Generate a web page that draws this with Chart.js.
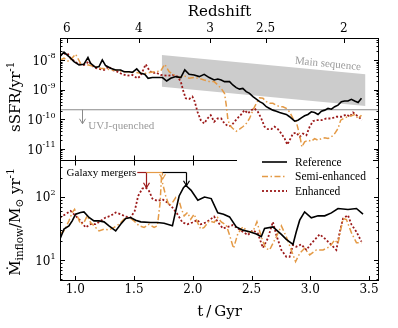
<!DOCTYPE html>
<html>
<head>
<meta charset="utf-8">
<script src="https://cdn.jsdelivr.net/npm/chart.js@4.4.0/dist/chart.umd.min.js"></script>
<style>
  html, body { margin: 0; padding: 0; background: #fff; }
  canvas { display: block; }
</style>
</head>
<body>
<canvas id="sfrChart" width="398" height="328"></canvas>
<script>
// axis ranges
const tMin = 0.87, tMax = 3.585;
const ssfrMin = 4.47e-12, ssfrMax = 5.62e-8;
const inflowMin = 4.73, inflowMax = 390;

// tick labels
const tTicks = [1.0, 1.5, 2.0, 2.5, 3.0, 3.5];
const zLabels = ['6', '4', '3', '2.5', '2'];
const zTickTimes = [0.929, 1.540, 2.148, 2.620, 3.285];

const seriesNames = ['Reference', 'Semi-enhanced', 'Enhanced'];

// sSFR [1/yr], top panel
const refTopT = [0.870,0.904,0.946,0.989,1.032,1.074,1.108,1.130,1.173,1.202,1.230,1.258,1.301,1.344,1.386,1.415,1.458,1.486,1.523,1.557,1.591,1.620,1.656,1.699,1.742,1.778,1.812,1.855,1.898,1.932,1.969,2.012,2.055,2.097,2.140,2.182,2.213,2.242,2.270,2.313,2.341,2.370,2.398,2.426,2.455,2.483,2.512,2.541,2.569,2.597,2.626,2.654,2.682,2.711,2.739,2.767,2.796,2.824,2.867,2.895,2.924,2.952,2.980,3.009,3.037,3.066,3.095,3.123,3.151,3.180,3.208,3.236,3.265,3.293,3.321,3.350,3.378,3.407,3.436];
const refTopSSFR = [1.33e-8,1.87e-8,1.33e-8,9.0e-9,6.9e-9,7.3e-9,1.24e-8,7.9e-9,5.7e-9,6.1e-9,1.02e-8,6.6e-9,5.4e-9,4.7e-9,4.7e-9,4.1e-9,4.1e-9,3.9e-9,5.1e-9,3.6e-9,3.35e-9,2.45e-9,2.6e-9,2.6e-9,2.6e-9,1.99e-9,2.45e-9,2.8e-9,2.6e-9,4.7e-9,3.35e-9,3.18e-9,2.8e-9,3.35e-9,2.6e-9,2.15e-9,2.32e-9,2.15e-9,1.9e-9,1.9e-9,1.46e-9,1.19e-9,1.06e-9,1.12e-9,8.7e-10,7.6e-10,5.9e-10,4.9e-10,4.0e-10,3.5e-10,2.7e-10,2.36e-10,2.07e-10,1.91e-10,1.73e-10,1.6e-10,1.48e-10,1.24e-10,8.8e-11,9.5e-11,1.14e-10,1.33e-10,1.48e-10,1.82e-10,1.73e-10,1.48e-10,1.91e-10,2.07e-10,2.36e-10,2.23e-10,2.7e-10,3.05e-10,4.0e-10,4.2e-10,4.2e-10,4.8e-10,4.2e-10,3.77e-10,5.2e-10];

const semiTopT = [0.870,0.904,0.946,1.003,1.045,1.088,1.130,1.173,1.216,1.258,1.301,1.344,1.386,1.429,1.471,1.514,1.557,1.599,1.642,1.685,1.727,1.761,1.799,1.841,1.884,1.927,1.969,2.012,2.055,2.097,2.140,2.182,2.213,2.242,2.270,2.285,2.298,2.313,2.341,2.370,2.398,2.426,2.455,2.483,2.512,2.541,2.569,2.597,2.626,2.654,2.682,2.711,2.739,2.767,2.796,2.824,2.853,2.881,2.910,2.929,2.952,2.980,3.009,3.037,3.066,3.095,3.123,3.151,3.180,3.208,3.236,3.259,3.293,3.321,3.350,3.378,3.407,3.436];
const semiTopSSFR = [1.02e-8,1.17e-8,9.0e-9,1.6e-8,7.9e-9,7.3e-9,6.6e-9,6.1e-9,5.4e-9,5.1e-9,4.7e-9,4.7e-9,4.3e-9,4.1e-9,4.1e-9,3.9e-9,3.6e-9,3.6e-9,3.9e-9,4.1e-9,4.3e-9,7.3e-9,4.1e-9,3.18e-9,2.6e-9,3.0e-9,2.45e-9,2.6e-9,2.45e-9,2.15e-9,1.9e-9,1.9e-9,1.46e-9,1.12e-9,7.6e-10,3.05e-10,1.08e-10,6.4e-11,4.95e-11,4.0e-11,4.7e-11,5.7e-11,7.3e-11,1.08e-10,2.07e-10,3.5e-10,5.4e-10,5.2e-10,4.0e-10,3.5e-10,3.5e-10,3.05e-10,2.7e-10,2.7e-10,2.36e-10,1.82e-10,1.08e-10,8.4e-11,2.94e-11,1.19e-11,1.75e-11,1.99e-11,1.84e-11,2.27e-11,1.99e-11,2.27e-11,2.4e-11,2.27e-11,2.6e-11,3.35e-11,4.95e-11,9.5e-11,1.14e-10,1.24e-10,1.33e-10,1.48e-10,1.08e-10,1.4e-10];

const enhTopT = [0.870,0.932,0.960,1.017,1.074,1.117,1.159,1.202,1.245,1.287,1.315,1.358,1.401,1.443,1.486,1.529,1.557,1.599,1.628,1.656,1.685,1.727,1.784,1.827,1.870,1.898,1.921,1.940,1.969,1.997,2.017,2.040,2.068,2.097,2.125,2.153,2.182,2.211,2.242,2.270,2.298,2.327,2.355,2.384,2.412,2.440,2.469,2.498,2.526,2.554,2.583,2.611,2.639,2.668,2.696,2.725,2.754,2.782,2.805,2.824,2.853,2.881,2.910,2.938,2.967,2.995,3.023,3.052,3.095,3.137,3.180,3.222,3.265,3.308,3.336,3.364,3.393,3.421,3.441];
const enhTopSSFR = [1.51e-8,1.73e-8,1.17e-8,7.9e-9,6.9e-9,9.0e-9,5.7e-9,5.1e-9,4.7e-9,6.1e-9,4.7e-9,4.1e-9,3.35e-9,3.0e-9,3.18e-9,2.45e-9,3.0e-9,7.3e-9,4.7e-9,3.6e-9,3.9e-9,3.18e-9,3.0e-9,3.18e-9,2.8e-9,1.9e-9,8.7e-10,5.2e-10,4.9e-10,5.9e-10,4.0e-10,1.82e-10,9.5e-11,7.3e-11,1.08e-10,1.4e-10,8.4e-11,1.08e-10,1.08e-10,7.3e-11,6.1e-11,6.1e-11,8.4e-11,1.14e-10,1.48e-10,2.07e-10,1.6e-10,2.07e-10,2.36e-10,1.82e-10,1.08e-10,5.7e-11,4.7e-11,4.7e-11,5.7e-11,4.7e-11,3.35e-11,2.27e-11,1.42e-11,1.99e-11,3.35e-11,3.6e-11,2.6e-11,3.35e-11,2.94e-11,5.7e-11,8.8e-11,9.5e-11,9.5e-11,1.08e-10,1.08e-10,1.24e-10,1.24e-10,1.48e-10,1.24e-10,1.73e-10,1.4e-10,1.14e-10,9.5e-11];

// main sequence band and UVJ quenching threshold
const msT = [1.736, 3.470];
const msUpper = [1.51e-8, 3.35e-9];
const msLower = [1.28e-9, 2.83e-10];
const quenchT = [tMin, tMax];
const quenchSSFR = [2.13e-10, 2.13e-10];

// inflow rate [Msun/yr], bottom panel
const refInflowT = [0.870,0.904,0.946,0.974,1.003,1.045,1.074,1.117,1.159,1.202,1.245,1.287,1.344,1.386,1.429,1.471,1.514,1.557,1.642,1.699,1.756,1.827,1.855,1.884,1.921,1.940,1.986,2.043,2.100,2.157,2.213,2.262,2.313,2.370,2.426,2.483,2.541,2.583,2.611,2.682,2.754,2.796,2.853,2.881,2.910,2.952,3.009,3.066,3.123,3.180,3.236,3.321,3.393,3.449];
const refInflow = [21.7,31.1,35.1,42,53.5,56.9,58.2,47.5,42,42,40.5,35.1,29.2,37.2,45.8,47.5,43.1,40.5,39.6,39.6,38.6,35.1,60.3,103.7,140.5,152.9,127.4,88.7,100,94.4,56.1,53.5,48.5,33.8,30,28.2,26,23.6,31.9,33.8,25.7,21.4,17.9,28.2,43.1,58.2,46.8,50.4,50.4,56.1,65.8,63.4,65.8,53.5];

const semiInflowT = [0.870,0.904,0.946,0.974,0.994,1.017,1.045,1.074,1.102,1.130,1.159,1.202,1.245,1.287,1.330,1.373,1.415,1.458,1.500,1.543,1.586,1.628,1.671,1.699,1.722,1.733,1.770,1.799,1.827,1.855,1.884,1.904,1.927,1.955,1.983,2.012,2.040,2.068,2.097,2.140,2.182,2.211,2.242,2.285,2.313,2.347,2.384,2.426,2.469,2.512,2.546,2.583,2.620,2.654,2.711,2.754,2.796,2.838,2.875,2.910,2.952,2.995,3.052,3.109,3.165,3.208,3.236,3.279,3.308,3.350,3.393,3.436];
const semiInflow = [26,29.2,42,56.9,64.1,50.4,37.2,39.6,50.4,39.6,35.1,29.2,31.1,30.3,33.1,37.2,44.7,47.5,42,35.1,33.1,37.2,33.1,35.1,81.6,195,103.7,72.3,81.6,98,86.5,64.1,50.4,56.9,44.7,53.5,39.6,31.1,33.1,42,39.6,47.5,40.5,36,25.1,15.5,26.6,33.8,28.2,28.2,40.5,23.6,15.5,14.6,23.6,35,23.6,14.6,9.55,12.9,15.5,12.2,14.6,14.6,16.4,21,18.5,45.8,44,27.4,19,19];

const enhInflowT = [0.870,0.917,0.960,1.003,1.045,1.088,1.130,1.173,1.216,1.258,1.301,1.344,1.386,1.429,1.471,1.506,1.535,1.571,1.600,1.628,1.656,1.699,1.742,1.784,1.827,1.870,1.912,1.955,1.997,2.040,2.068,2.111,2.153,2.182,2.213,2.256,2.298,2.341,2.384,2.426,2.469,2.512,2.554,2.597,2.639,2.682,2.711,2.754,2.796,2.824,2.853,2.881,2.924,2.967,3.009,3.080,3.123,3.180,3.222,3.251,3.279,3.321,3.350,3.393,3.436];
const enhInflow = [47.5,53.5,60.3,50.4,42,33.1,37.2,37.2,42,47.5,50.4,56.9,53.5,49.2,47.5,60.3,103.7,135.5,140.5,124.2,94.4,86.5,92,81.6,68.2,53.5,39.6,37.2,39.6,43.5,37.2,39.6,44.7,49.2,40.5,31.9,33.8,36,31.9,28.2,25.1,30,26.6,15.8,22.2,40.5,25.1,14.6,11.4,11.4,17.5,16.4,17.9,14.6,18.5,25.7,22.2,17.5,14.6,28.2,45.8,51.6,36.9,28.2,19.7];

// merger times (enhanced, semi-enhanced, reference) and the peaks they point at
const mergerTimes = [1.603, 1.735, 1.940];
const mergerPeaks = [140, 190, 150];
const mergerLevel = 247;

const axisFont = '"DejaVu Serif", serif';
const textFont = '"Liberation Serif", serif';
const colRef = '#000000', colSemi = '#e49a46', colEnh = '#9c1a1a';
const grey = '#999999';

function pts(ts, vs) {
  return ts.map((t, i) => ({ x: t, y: vs[i] }));
}

function logTicks(scale) {
  const out = [];
  const lo = Math.floor(Math.log10(scale.min)), hi = Math.ceil(Math.log10(scale.max));
  for (let e = lo; e <= hi; e++) {
    for (let k = 1; k < 10; k++) {
      const v = k * Math.pow(10, e);
      if (v > scale.min && v < scale.max) out.push({ v: v, major: k === 1 });
    }
  }
  return out;
}

// text made of pieces with own size and baseline shift (sub/superscripts)
function richText(ctx, parts, cx, cy, angle, align) {
  ctx.save();
  ctx.translate(cx, cy);
  ctx.rotate(angle);
  let total = 0;
  parts.forEach(p => {
    ctx.font = p.size + 'px ' + axisFont;
    p.w = ctx.measureText(p.t).width;
    total += p.w;
  });
  let px = align === 'right' ? -total : (align === 'left' ? 0 : -total / 2);
  ctx.textAlign = 'left';
  ctx.textBaseline = 'alphabetic';
  parts.forEach(p => {
    ctx.font = p.size + 'px ' + axisFont;
    ctx.fillText(p.t, px, p.dy || 0);
    px += p.w;
  });
  ctx.restore();
}

function seg(ctx, x1, y1, x2, y2) {
  ctx.beginPath();
  ctx.moveTo(x1, y1);
  ctx.lineTo(x2, y2);
  ctx.stroke();
}

const panelDecor = {
  id: 'panelDecor',
  afterDraw(chart) {
    const { ctx, chartArea: area } = chart;
    const { x, ySSFR, yInf } = chart.scales;
    const split = ySSFR.bottom;
    ctx.save();
    ctx.fillStyle = '#000';

    // UVJ quenched arrow + label
    ctx.strokeStyle = '#8a8a8a';
    ctx.fillStyle = grey;
    ctx.lineWidth = 1;
    const ax = Math.round(x.getPixelForValue(1.06)) + 0.5;
    const ay = ySSFR.getPixelForValue(quenchSSFR[0]);
    seg(ctx, ax, ay, ax, ay + 14);
    seg(ctx, ax - 3, ay + 9, ax, ay + 14);
    seg(ctx, ax + 3, ay + 9, ax, ay + 14);
    ctx.font = '11px ' + textFont;
    ctx.textAlign = 'left';
    ctx.textBaseline = 'middle';
    ctx.fillText('UVJ-quenched', x.getPixelForValue(1.111), ySSFR.getPixelForValue(5.8e-11));

    // main sequence label, along the band
    const p1x = x.getPixelForValue(msT[0]), p1y = ySSFR.getPixelForValue(msUpper[0]);
    const p2x = x.getPixelForValue(msT[1]), p2y = ySSFR.getPixelForValue(msUpper[1]);
    ctx.save();
    ctx.translate(x.getPixelForValue(3.15), ySSFR.getPixelForValue(7.4e-9));
    ctx.rotate(Math.atan2(p2y - p1y, p2x - p1x));
    ctx.textAlign = 'center';
    ctx.fillText('Main sequence', 0, 0);
    ctx.restore();

    // galaxy mergers
    ctx.font = '11px ' + textFont;
    const gx = x.getPixelForValue(0.926), gy = Math.round(yInf.getPixelForValue(mergerLevel)) + 0.5;
    const gw = ctx.measureText('Galaxy mergers').width;
    ctx.fillStyle = '#fff';
    ctx.fillRect(gx - 1, gy - 7, gw + 2, 13);
    ctx.fillStyle = '#000';
    ctx.textAlign = 'left';
    ctx.fillText('Galaxy mergers', gx, gy + 0.5);
    const mcols = [colEnh, colSemi, colRef];
    let prev = gx + gw + 1;
    mergerTimes.forEach((mt, i) => {
      const mx = Math.round(x.getPixelForValue(mt)) + 0.5;
      const tip = yInf.getPixelForValue(mergerPeaks[i]);
      ctx.strokeStyle = mcols[i];
      ctx.lineWidth = 1.2;
      ctx.setLineDash([]);
      seg(ctx, prev, gy, mx, gy);
      ctx.setLineDash(i === 1 ? [3, 2] : []);
      seg(ctx, mx, gy, mx, tip);
      ctx.setLineDash([]);
      seg(ctx, mx - 3, tip - 5, mx, tip);
      seg(ctx, mx + 3, tip - 5, mx, tip);
      prev = mx;
    });

    // frame and panel split
    ctx.strokeStyle = '#000';
    ctx.lineWidth = 1;
    ctx.setLineDash([]);
    ctx.strokeRect(area.left + 0.5, area.top + 0.5, area.width - 1, area.height - 1);
    const sy = Math.round(split) + 0.5;
    seg(ctx, area.left, sy, area.right, sy);

    // inward ticks
    tTicks.forEach(v => {
      const px = Math.round(x.getPixelForValue(v)) + 0.5;
      seg(ctx, px, area.bottom, px, area.bottom - 5);
      seg(ctx, px, sy, px, sy - 5);
      seg(ctx, px, sy, px, sy + 5);
    });
    zTickTimes.forEach(v => {
      const px = Math.round(x.getPixelForValue(v)) + 0.5;
      seg(ctx, px, area.top, px, area.top + 5);
    });
    [ySSFR, yInf].forEach(s => {
      logTicks(s).forEach(t => {
        const py = Math.round(s.getPixelForValue(t.v)) + 0.5;
        const len = t.major ? 5 : 2.5;
        seg(ctx, area.left, py, area.left + len, py);
        seg(ctx, area.right, py, area.right - len, py);
      });
      // 10^n labels
      ctx.fillStyle = '#000';
      const lo = Math.ceil(Math.log10(s.min)), hi = Math.floor(Math.log10(s.max));
      for (let e = lo; e <= hi; e++) {
        const py = s.getPixelForValue(Math.pow(10, e));
        richText(ctx, [
          { t: '10', size: 12, dy: 4.4 },
          { t: (e < 0 ? '-' : '') + Math.abs(e), size: 8, dy: -1.8 }
        ], s.right - 4.5, py, 0, 'right');
      }
    });

    // y titles
    richText(ctx, [
      { t: 'sSFR/yr', size: 15 },
      { t: '-1', size: 10.5, dy: -6 }
    ], 19.5, (ySSFR.top + ySSFR.bottom) / 2 - 2, -Math.PI / 2, 'center');
    richText(ctx, [
      { t: '\u1E40', size: 15 },
      { t: 'inflow', size: 10.5, dy: 3 },
      { t: '/M', size: 15 },
      { t: '\u2299', size: 10.5, dy: 3 },
      { t: ' yr', size: 15 },
      { t: '-1', size: 10.5, dy: -6 }
    ], 20, 222, -Math.PI / 2, 'center');

    // legend
    const bx = area.right - 142, by = split - 8;
    ctx.fillStyle = '#fff';
    ctx.fillRect(bx, by, 136, 48);
    const styles = [
      { c: colRef, d: [], w: 1.6 },
      { c: colSemi, d: [6, 2.5, 1.5, 2.5], w: 1.5 },
      { c: colEnh, d: [2, 2], w: 1.8 }
    ];
    ctx.font = '11.5px ' + textFont;
    ctx.textAlign = 'left';
    ctx.textBaseline = 'middle';
    seriesNames.forEach((name, i) => {
      const ry = split + 2.5 + i * 14.5;
      ctx.strokeStyle = styles[i].c;
      ctx.lineWidth = styles[i].w;
      ctx.setLineDash(styles[i].d);
      seg(ctx, area.right - 117, ry, area.right - 92, ry);
      ctx.setLineDash([]);
      ctx.fillStyle = '#000';
      ctx.fillText(name, area.right - 84, ry + 0.5);
    });
    ctx.restore();
  }
};

const lineDefaults = { pointRadius: 0, tension: 0, fill: false };

new Chart(document.getElementById('sfrChart'), {
  type: 'line',
  data: {
    datasets: [
      { ...lineDefaults, label: seriesNames[0], data: pts(refTopT, refTopSSFR), yAxisID: 'ySSFR', borderColor: colRef, borderWidth: 1.6 },
      { ...lineDefaults, label: seriesNames[1], data: pts(semiTopT, semiTopSSFR), yAxisID: 'ySSFR', borderColor: colSemi, borderWidth: 1.5, borderDash: [6, 2.5, 1.5, 2.5] },
      { ...lineDefaults, label: seriesNames[2], data: pts(enhTopT, enhTopSSFR), yAxisID: 'ySSFR', borderColor: colEnh, borderWidth: 1.8, borderDash: [2, 2] },
      { ...lineDefaults, label: seriesNames[0], data: pts(refInflowT, refInflow), yAxisID: 'yInf', borderColor: colRef, borderWidth: 1.6 },
      { ...lineDefaults, label: seriesNames[1], data: pts(semiInflowT, semiInflow), yAxisID: 'yInf', borderColor: colSemi, borderWidth: 1.5, borderDash: [6, 2.5, 1.5, 2.5] },
      { ...lineDefaults, label: seriesNames[2], data: pts(enhInflowT, enhInflow), yAxisID: 'yInf', borderColor: colEnh, borderWidth: 1.8, borderDash: [2, 2] },
      { ...lineDefaults, label: 'UVJ', data: pts(quenchT, quenchSSFR), yAxisID: 'ySSFR', borderColor: '#8a8a8a', borderWidth: 1 },
      { ...lineDefaults, label: 'MS upper', data: pts(msT, msUpper), yAxisID: 'ySSFR', borderColor: 'rgba(0,0,0,0)', borderWidth: 1, fill: '+1', backgroundColor: '#cccccc' },
      { ...lineDefaults, label: 'MS lower', data: pts(msT, msLower), yAxisID: 'ySSFR', borderColor: 'rgba(0,0,0,0)', borderWidth: 1 }
    ]
  },
  options: {
    responsive: false,
    animation: false,
    devicePixelRatio: 1,
    layout: { padding: { left: 0, right: 19, top: 0, bottom: 0 } },
    plugins: { legend: { display: false }, tooltip: { enabled: false } },
    scales: {
      x: {
        type: 'linear', position: 'bottom', min: tMin, max: tMax, bounds: 'data',
        grid: { display: false, drawTicks: false }, border: { display: false },
        afterBuildTicks: s => { s.ticks = tTicks.map(v => ({ value: v })); },
        ticks: { callback: v => v.toFixed(1), font: { family: axisFont, size: 12 }, color: '#000', padding: 2, maxRotation: 0, autoSkip: false },
        title: { display: true, text: 't\u2009/\u2009Gyr', font: { family: axisFont, size: 15 }, color: '#000', padding: { top: 0, bottom: 7 } },
        afterFit: s => { s.height = 47; }
      },
      xTop: {
        type: 'linear', position: 'top', min: tMin, max: tMax, bounds: 'data',
        grid: { display: false, drawTicks: false }, border: { display: false },
        afterBuildTicks: s => { s.ticks = zTickTimes.map(v => ({ value: v })); },
        ticks: { callback: (v, i) => zLabels[i], font: { family: axisFont, size: 12 }, color: '#000', padding: 2, maxRotation: 0, autoSkip: false },
        title: { display: true, text: 'Redshift', font: { family: axisFont, size: 15 }, color: '#000', padding: { top: 3, bottom: 0 } },
        afterFit: s => { s.height = 38; }
      },
      ySSFR: {
        type: 'logarithmic', position: 'left', stack: 'panels', stackWeight: 1, weight: 2,
        min: ssfrMin, max: ssfrMax, bounds: 'data',
        ticks: { display: false }, grid: { display: false }, border: { display: false },
        afterFit: s => { s.width = 60; }
      },
      yInf: {
        type: 'logarithmic', position: 'left', stack: 'panels', stackWeight: 1, weight: 1,
        min: inflowMin, max: inflowMax, bounds: 'data',
        ticks: { display: false }, grid: { display: false }, border: { display: false },
        afterFit: s => { s.width = 60; }
      }
    }
  },
  plugins: [panelDecor]
});
</script>
</body>
</html>
